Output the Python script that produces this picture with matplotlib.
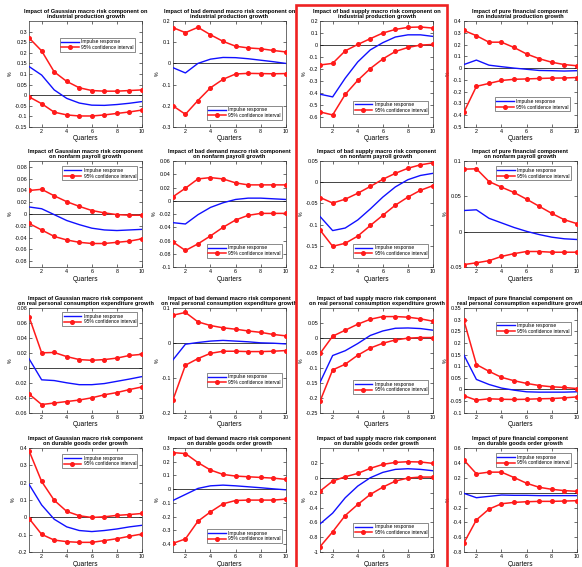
import matplotlib
matplotlib.use("Agg")
import matplotlib.pyplot as plt
from matplotlib.patches import Rectangle

plt.rcParams['font.family'] = ['Liberation Sans', 'DejaVu Sans']

quarters = list(range(1, 11))

# titles, one row per macro variable, one column per shock
titles = [
    ["Impact of Gaussian macro risk component on\nindustrial production growth",
     "Impact of bad demand macro risk component on\nindustrial production growth",
     "Impact of bad supply macro risk component on\nindustrial production growth",
     "Impact of pure financial component\non industrial production growth"],
    ["Impact of Gaussian macro risk component\non nonfarm payroll growth",
     "Impact of bad demand macro risk component\non nonfarm payroll growth",
     "Impact of bad supply macro risk component\non nonfarm payroll growth",
     "Impact of pure financial component\non nonfarm payroll growth"],
    ["Impact of Gaussian macro risk component\non real personal consumption expenditure growth",
     "Impact of bad demand macro risk component\non real personal consumption expenditure growth",
     "Impact of bad supply macro risk component\non real personal consumption expenditure growth",
     "Impact of pure financial component on\nreal personal consumption expenditure growth"],
    ["Impact of Gaussian macro risk component\non durable goods order growth",
     "Impact of bad demand macro risk component\non durable goods order growth",
     "Impact of bad supply macro risk component\non durable goods order growth",
     "Impact of pure financial component\non durable goods order growth"],
]

# ---- industrial production
ip_gauss_up = [0.27, 0.209, 0.11, 0.065, 0.035, 0.022, 0.019, 0.019, 0.022, 0.025]
ip_gauss_ir = [0.135, 0.095, 0.025, -0.015, -0.037, -0.047, -0.048, -0.044, -0.038, -0.03]
ip_gauss_lo = [-0.008, -0.04, -0.08, -0.093, -0.098, -0.098, -0.093, -0.086, -0.079, -0.07]

ip_dem_up = [0.169, 0.145, 0.17, 0.135, 0.104, 0.081, 0.073, 0.069, 0.061, 0.054]
ip_dem_ir = [-0.02, -0.045, 0.0, 0.02, 0.028, 0.027, 0.022, 0.015, 0.008, 0.0]
ip_dem_lo = [-0.2, -0.24, -0.175, -0.115, -0.075, -0.05, -0.047, -0.048, -0.049, -0.048]

ip_sup_up = [-0.165, -0.152, -0.048, 0.005, 0.053, 0.10, 0.13, 0.147, 0.15, 0.141]
ip_sup_ir = [-0.408, -0.43, -0.275, -0.14, -0.04, 0.02, 0.067, 0.085, 0.085, 0.072]
ip_sup_lo = [-0.555, -0.58, -0.41, -0.293, -0.195, -0.115, -0.053, -0.02, 0.0, 0.005]

ip_fin_up = [0.32, 0.275, 0.22, 0.22, 0.175, 0.12, 0.08, 0.05, 0.03, 0.02]
ip_fin_ir = [0.03, 0.068, 0.025, 0.012, 0.0, -0.01, -0.02, -0.022, -0.025, -0.022]
ip_fin_lo = [-0.375, -0.155, -0.13, -0.105, -0.095, -0.092, -0.088, -0.085, -0.084, -0.08]

# ---- nonfarm payroll
nf_gauss_up = [0.040, 0.042, 0.031, 0.021, 0.013, 0.006, 0.002, -0.001, -0.002, -0.002]
nf_gauss_ir = [0.012, 0.009, -0.001, -0.011, -0.018, -0.024, -0.027, -0.028, -0.027, -0.026]
nf_gauss_lo = [-0.016, -0.027, -0.038, -0.044, -0.048, -0.05, -0.05, -0.048, -0.046, -0.042]

nf_dem_up = [0.006, 0.019, 0.033, 0.035, 0.033, 0.027, 0.024, 0.024, 0.024, 0.024]
nf_dem_ir = [-0.033, -0.035, -0.021, -0.01, -0.003, 0.002, 0.004, 0.004, 0.003, 0.002]
nf_dem_lo = [-0.062, -0.075, -0.065, -0.053, -0.04, -0.029, -0.022, -0.019, -0.019, -0.019]

nf_sup_up = [-0.036, -0.049, -0.04, -0.026, -0.01, 0.007, 0.021, 0.033, 0.041, 0.046]
nf_sup_ir = [-0.081, -0.114, -0.108, -0.089, -0.063, -0.035, -0.011, 0.006, 0.016, 0.021]
nf_sup_lo = [-0.113, -0.151, -0.144, -0.127, -0.102, -0.078, -0.054, -0.035, -0.019, -0.008]

nf_fin_up = [0.0885, 0.089, 0.071, 0.063, 0.0555, 0.046, 0.036, 0.026, 0.017, 0.0115]
nf_fin_ir = [0.030, 0.031, 0.019, 0.0125, 0.006, 0.0005, -0.004, -0.0077, -0.01, -0.011]
nf_fin_lo = [-0.0465, -0.044, -0.041, -0.035, -0.031, -0.028, -0.028, -0.029, -0.029, -0.029]

# ---- real personal consumption expenditure
pce_gauss_up = [0.068, 0.020, 0.0205, 0.015, 0.011, 0.010, 0.011, 0.013, 0.0165, 0.018]
pce_gauss_ir = [0.012, -0.016, -0.017, -0.020, -0.0225, -0.0225, -0.021, -0.018, -0.015, -0.0117]
pce_gauss_lo = [-0.035, -0.049, -0.047, -0.045, -0.043, -0.040, -0.036, -0.033, -0.029, -0.0255]

pce_dem_up = [0.079, 0.087, 0.060, 0.0495, 0.043, 0.039, 0.034, 0.030, 0.024, 0.020]
pce_dem_ir = [-0.049, -0.004, 0.001, 0.005, 0.007, 0.005, 0.003, 0.0, -0.001, -0.003]
pce_dem_lo = [-0.164, -0.064, -0.045, -0.030, -0.024, -0.024, -0.025, -0.025, -0.024, -0.022]

pce_sup_up = [-0.052, 0.0055, 0.0255, 0.0455, 0.062, 0.071, 0.071, 0.069, 0.0635, 0.0555]
pce_sup_ir = [-0.148, -0.059, -0.043, -0.019, 0.008, 0.023, 0.032, 0.033, 0.031, 0.0255]
pce_sup_lo = [-0.211, -0.107, -0.088, -0.058, -0.034, -0.018, -0.007, -0.001, 0.001, 0.001]

pce_fin_up = [0.297, 0.107, 0.078, 0.052, 0.0375, 0.026, 0.017, 0.0115, 0.0085, 0.004]
pce_fin_ir = [0.148, 0.043, 0.0215, 0.006, -0.003, -0.01, -0.0115, -0.0115, -0.0115, -0.01]
pce_fin_lo = [-0.027, -0.046, -0.040, -0.042, -0.043, -0.042, -0.040, -0.039, -0.036, -0.032]

# ---- durable goods orders
dg_gauss_up = [0.383, 0.207, 0.099, 0.035, 0.01, 0.0, 0.004, 0.012, 0.017, 0.023]
dg_gauss_ir = [0.19, 0.072, -0.01, -0.054, -0.075, -0.081, -0.075, -0.066, -0.054, -0.045]
dg_gauss_lo = [-0.006, -0.097, -0.13, -0.139, -0.143, -0.143, -0.133, -0.122, -0.108, -0.095]

dg_dem_up = [0.266, 0.259, 0.193, 0.139, 0.107, 0.095, 0.09, 0.085, 0.08, 0.071]
dg_dem_ir = [-0.083, -0.039, 0.005, 0.024, 0.029, 0.024, 0.017, 0.01, 0.002, -0.005]
dg_dem_lo = [-0.395, -0.363, -0.234, -0.166, -0.107, -0.083, -0.08, -0.08, -0.08, -0.073]

dg_sup_up = [-0.179, -0.045, 0.013, 0.058, 0.126, 0.179, 0.206, 0.215, 0.211, 0.193]
dg_sup_ir = [-0.619, -0.475, -0.269, -0.112, 0.0, 0.072, 0.112, 0.121, 0.112, 0.094]
dg_sup_lo = [-0.924, -0.726, -0.507, -0.359, -0.224, -0.126, -0.045, -0.004, 0.009, 0.009]

dg_fin_up = [0.438, 0.253, 0.275, 0.275, 0.203, 0.126, 0.072, 0.045, 0.027, 0.018]
dg_fin_ir = [-0.009, -0.068, -0.05, -0.032, -0.036, -0.036, -0.04, -0.04, -0.04, -0.04]
dg_fin_lo = [-0.677, -0.366, -0.221, -0.149, -0.131, -0.122, -0.117, -0.117, -0.113, -0.108]

series = [
    [(ip_gauss_ir, ip_gauss_up, ip_gauss_lo), (ip_dem_ir, ip_dem_up, ip_dem_lo),
     (ip_sup_ir, ip_sup_up, ip_sup_lo), (ip_fin_ir, ip_fin_up, ip_fin_lo)],
    [(nf_gauss_ir, nf_gauss_up, nf_gauss_lo), (nf_dem_ir, nf_dem_up, nf_dem_lo),
     (nf_sup_ir, nf_sup_up, nf_sup_lo), (nf_fin_ir, nf_fin_up, nf_fin_lo)],
    [(pce_gauss_ir, pce_gauss_up, pce_gauss_lo), (pce_dem_ir, pce_dem_up, pce_dem_lo),
     (pce_sup_ir, pce_sup_up, pce_sup_lo), (pce_fin_ir, pce_fin_up, pce_fin_lo)],
    [(dg_gauss_ir, dg_gauss_up, dg_gauss_lo), (dg_dem_ir, dg_dem_up, dg_dem_lo),
     (dg_sup_ir, dg_sup_up, dg_sup_lo), (dg_fin_ir, dg_fin_up, dg_fin_lo)],
]

# y limits and y ticks per panel
ylims = [
    [(-0.15, 0.35), (-0.3, 0.2), (-0.68, 0.2), (-0.5, 0.4)],
    [(-0.09, 0.09), (-0.1, 0.06), (-0.2, 0.05), (-0.05, 0.1)],
    [(-0.06, 0.08), (-0.2, 0.1), (-0.25, 0.1), (-0.1, 0.35)],
    [(-0.2, 0.4), (-0.46, 0.3), (-1.0, 0.4), (-0.8, 0.6)],
]
yticks = [
    [[-0.15, -0.1, -0.05, 0, 0.05, 0.1, 0.15, 0.2, 0.25, 0.3],
     [-0.3, -0.2, -0.1, 0, 0.1, 0.2],
     [-0.6, -0.5, -0.4, -0.3, -0.2, -0.1, 0, 0.1, 0.2],
     [-0.5, -0.4, -0.3, -0.2, -0.1, 0, 0.1, 0.2, 0.3, 0.4]],
    [[-0.08, -0.06, -0.04, -0.02, 0, 0.02, 0.04, 0.06, 0.08],
     [-0.1, -0.08, -0.06, -0.04, -0.02, 0, 0.02, 0.04, 0.06],
     [-0.2, -0.15, -0.1, -0.05, 0, 0.05],
     [-0.05, 0, 0.05, 0.1]],
    [[-0.06, -0.04, -0.02, 0, 0.02, 0.04, 0.06, 0.08],
     [-0.2, -0.1, 0, 0.1],
     [-0.25, -0.2, -0.15, -0.1, -0.05, 0, 0.05],
     [-0.1, -0.05, 0, 0.05, 0.1, 0.15, 0.2, 0.25, 0.3, 0.35]],
    [[-0.2, -0.1, 0, 0.1, 0.2, 0.3, 0.4],
     [-0.4, -0.3, -0.2, -0.1, 0, 0.1, 0.2, 0.3],
     [-1, -0.8, -0.6, -0.4, -0.2, 0, 0.2],
     [-0.8, -0.6, -0.4, -0.2, 0, 0.2, 0.4, 0.6]],
]

# legend placement: (loc, anchor in axes fraction)
legend_pos = [
    [("upper right", (0.94, 0.84)), ("lower right", (0.97, 0.07)),
     ("lower right", (0.96, 0.12)), ("lower right", (0.94, 0.15))],
    [("upper right", (0.96, 0.95)), ("lower right", (0.97, 0.09)),
     ("lower right", (0.96, 0.09)), ("upper right", (0.95, 0.95))],
    [("upper right", (0.96, 0.96)), ("lower right", (0.97, 0.25)),
     ("lower right", (0.96, 0.18)), ("upper right", (0.95, 0.87))],
    [("upper right", (0.96, 0.94)), ("lower right", (0.97, 0.09)),
     ("lower right", (0.96, 0.15)), ("upper right", (0.95, 0.95))],
]

fig = plt.figure(figsize=(5.82, 5.67), dpi=100)

col_left = [0.050, 0.297, 0.550, 0.797]
row_bottom = [0.776, 0.529, 0.272, 0.026]
row_top = [0.963, 0.716, 0.457, 0.210]
ax_w = 0.194

for r in range(4):
    for c in range(4):
        ax = fig.add_axes([col_left[c], row_bottom[r], ax_w, row_top[r] - row_bottom[r]])
        ir, up, lo = series[r][c]
        ax.axhline(0, color='#444444', lw=0.7, zorder=1)
        ax.plot(quarters, ir, color='#1010ff', lw=1.0, label='Impulse response', zorder=3)
        ax.plot(quarters, up, color='#ff1a1a', lw=1.1, marker='o', ms=2.6,
                mfc='#ff1a1a', mec='#ff1a1a', label='95% confidence interval', zorder=3)
        ax.plot(quarters, lo, color='#ff1a1a', lw=1.1, marker='o', ms=2.6,
                mfc='#ff1a1a', mec='#ff1a1a', zorder=3)
        ax.set_xlim(1, 10)
        ax.set_ylim(*ylims[r][c])
        ax.set_xticks([2, 4, 6, 8, 10])
        ax.set_yticks(yticks[r][c])
        ax.set_yticklabels(["%g" % v for v in yticks[r][c]])
        ax.tick_params(direction='in', length=2, width=0.4, labelsize=3.9, pad=1.5,
                       top=True, right=True)
        for sp in ax.spines.values():
            sp.set_linewidth(0.5)
            sp.set_color('#333333')
        ax.set_xlabel('Quarters', fontsize=4.7, labelpad=1)
        ax.set_ylabel('%', fontsize=3.8, labelpad=1)
        ax.set_title(titles[r][c], fontsize=4.1, fontweight='bold', pad=2, linespacing=1.05)
        loc, anchor = legend_pos[r][c]
        leg = ax.legend(loc=loc, bbox_to_anchor=anchor, fontsize=3.5, frameon=True,
                        fancybox=False, edgecolor='#333333', handlelength=3.6,
                        borderpad=0.3, labelspacing=0.15, handletextpad=0.5,
                        borderaxespad=0)
        leg.get_frame().set_linewidth(0.5)

# red box around the bad supply column
fig.patches.append(Rectangle((296 / 582, -0.02), (447 - 296) / 582, 1 - 5 / 567 + 0.02,
                             transform=fig.transFigure, fill=False,
                             edgecolor='#ee2222', lw=1.9, zorder=10))

fig.savefig('out.png', dpi=100)
